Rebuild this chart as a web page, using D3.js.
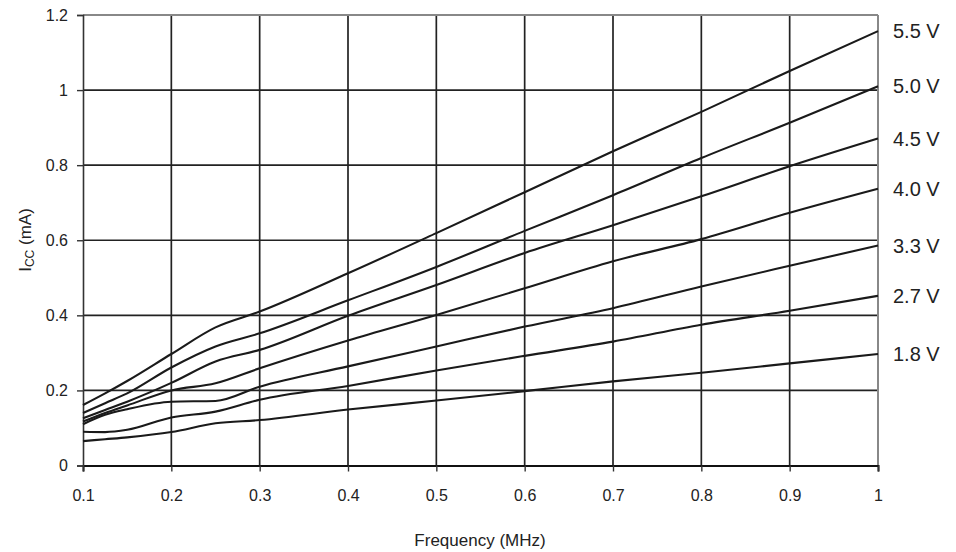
<!DOCTYPE html>
<html>
<head>
<meta charset="utf-8">
<script src="https://cdn.jsdelivr.net/npm/d3@7"></script>
<style>
  html, body { margin: 0; padding: 0; background: #fff; }
  svg text { font-family: "Liberation Sans", Arial, Helvetica, sans-serif; fill: #222; }
</style>
</head>
<body>
<svg id="chart" width="956" height="552"></svg>
<script>
// Frequency (MHz)
const freq = [0.1, 0.125, 0.15, 0.2, 0.25, 0.3, 0.4, 0.5, 0.6, 0.7, 0.8, 0.9, 1.0];
const seriesNames = ["5.5 V", "5.0 V", "4.5 V", "4.0 V", "3.3 V", "2.7 V", "1.8 V"];
// ICC (mA)
const v55 = [0.161, 0.192, 0.225, 0.297, 0.368, 0.410, 0.512, 0.619, 0.728, 0.837, 0.942, 1.051, 1.157];
const v50 = [0.140, 0.166, 0.192, 0.261, 0.317, 0.352, 0.440, 0.529, 0.625, 0.720, 0.819, 0.913, 1.010];
const v45 = [0.126, 0.148, 0.170, 0.220, 0.277, 0.308, 0.399, 0.481, 0.566, 0.640, 0.717, 0.797, 0.871];
const v40 = [0.117, 0.140, 0.160, 0.200, 0.219, 0.259, 0.333, 0.401, 0.472, 0.544, 0.603, 0.673, 0.737];
const v33 = [0.110, 0.135, 0.150, 0.170, 0.172, 0.210, 0.264, 0.317, 0.370, 0.419, 0.477, 0.532, 0.586];
const v27 = [0.090, 0.089, 0.095, 0.128, 0.1435, 0.175, 0.212, 0.253, 0.292, 0.330, 0.375, 0.412, 0.452];
const v18 = [0.065, 0.070, 0.075, 0.089, 0.1125, 0.121, 0.149, 0.173, 0.198, 0.224, 0.247, 0.272, 0.297];
const seriesValues = [v55, v50, v45, v40, v33, v27, v18];
const xTicks = [0.1, 0.2, 0.3, 0.4, 0.5, 0.6, 0.7, 0.8, 0.9, 1];
const yTicks = [0, 0.2, 0.4, 0.6, 0.8, 1, 1.2];
const xTitle = "Frequency (MHz)";

const svg = d3.select("#chart");
const x = d3.scaleLinear().domain([0.1, 1]).range([83, 878]);
const y = d3.scaleLinear().domain([0, 1.2]).range([465.5, 15]);

// gridlines
const grid = svg.append("g");
grid.selectAll("line.v").data(xTicks.filter(d => d > 0.1 && d < 1)).join("line")
  .attr("x1", d => x(d)).attr("x2", d => x(d))
  .attr("y1", y(0)).attr("y2", y(1.2))
  .attr("stroke", "#222").attr("stroke-width", 1.7);
grid.selectAll("line.h").data(yTicks.filter(d => d > 0 && d < 1.2)).join("line")
  .attr("x1", x(0.1)).attr("x2", x(1))
  .attr("y1", d => y(d)).attr("y2", d => y(d))
  .attr("stroke", "#222").attr("stroke-width", 1.7);

// frame (top and right grey)
svg.append("line").attr("x1", x(0.1)).attr("x2", x(1)).attr("y1", y(1.2)).attr("y2", y(1.2))
  .attr("stroke", "#888").attr("stroke-width", 2);
svg.append("line").attr("x1", x(1)).attr("x2", x(1)).attr("y1", y(1.2)).attr("y2", y(0))
  .attr("stroke", "#888").attr("stroke-width", 2);

// axes
const xAxis = d3.axisBottom(x).tickValues(xTicks).tickFormat(d3.format("")).tickSize(6).tickPadding(18);
const gx = svg.append("g").attr("transform", `translate(0,${y(0)})`).call(xAxis);
const yAxis = d3.axisLeft(y).tickValues(yTicks).tickFormat(d3.format("")).tickSize(6).tickPadding(9);
const gy = svg.append("g").attr("transform", `translate(${x(0.1)},0)`).call(yAxis);
[gx, gy].forEach(g => {
  g.select(".domain").attr("stroke", "#333").attr("stroke-width", 1.6);
  g.selectAll(".tick line").attr("stroke", "#333").attr("stroke-width", 1.4);
  g.selectAll(".tick text").attr("font-size", 16).attr("fill", "#222")
    .attr("font-family", "Liberation Sans, Arial, sans-serif");
});
gx.select(".domain").attr("stroke", "#111").attr("stroke-width", 2);

// lines
const line = d3.line().x((d, i) => x(freq[i])).y(d => y(d)).curve(d3.curveMonotoneX);
svg.append("g").selectAll("path").data(seriesValues).join("path")
  .attr("d", d => line(d))
  .attr("fill", "none").attr("stroke", "#1a1a1a").attr("stroke-width", 2.1);

// series labels
svg.append("g").selectAll("text").data(seriesValues).join("text")
  .attr("x", 893).attr("y", d => y(d[d.length - 1]))
  .attr("dominant-baseline", "central")
  .attr("font-size", 20)
  .text((d, i) => seriesNames[i]);

// axis titles
svg.append("text").attr("x", 480).attr("y", 546).attr("text-anchor", "middle")
  .attr("font-size", 17).text(xTitle);
const yt = svg.append("text").attr("transform", "translate(31,240) rotate(-90)")
  .attr("text-anchor", "middle").attr("font-size", 17);
yt.append("tspan").text("I");
yt.append("tspan").attr("font-size", 12).attr("dy", 3).text("CC");
yt.append("tspan").attr("dy", -3).text(" (mA)");
</script>
</body>
</html>
